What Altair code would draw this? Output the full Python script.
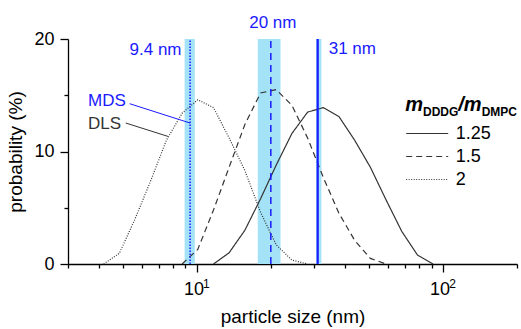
import altair as alt
import pandas as pd

# ---- data ----
sizes_r2 = [4.187, 4.849, 5.615, 6.503, 7.531, 8.721, 10.1, 11.7, 13.54, 15.69, 18.17, 21.04, 24.36, 28.21]
prob_r2 = [0, 0.95, 4.0, 7.4, 11.0, 13.4, 14.6, 13.9, 11.2, 8.3, 4.6, 1.7, 0.35, 0]

sizes_r15 = [8.721, 10.1, 11.7, 13.54, 15.69, 18.17, 21.04, 24.36, 28.21, 32.67, 37.84, 43.82, 50.75, 58.77]
prob_r15 = [0, 1.3, 4.8, 8.6, 12.4, 15.2, 15.5, 14.1, 11.2, 7.7, 4.5, 2.1, 0.5, 0]

sizes_r125 = [11.7, 13.54, 15.69, 18.17, 21.04, 24.36, 28.21, 32.67, 37.84, 43.82, 50.75, 58.77, 68.06, 78.82, 91.28]
prob_r125 = [0, 1.0, 3.0, 5.8, 8.8, 11.6, 13.5, 13.9, 13.1, 11.0, 8.6, 5.7, 2.9, 0.8, 0]

ratio_labels = ["1.25", "1.5", "2"]

mds_sizes = [9.4, 20, 31]
mds_labels = ["9.4 nm", "20 nm", "31 nm"]
band_lo = [8.93, 17.7, 30.5]
band_hi = [9.82, 21.9, 32.1]

x_tick_values = [3, 4, 5, 6, 7, 8, 9, 10, 20, 30, 40, 50, 60, 70, 80, 90, 100, 200]
x_decades = [10, 100]
x_exponents = ["1", "2"]
y_tick_values = [0, 5, 10, 15, 20]

# ---- tables ----
rows = []
for lab, xs, ys in [("1.25", sizes_r125, prob_r125), ("1.5", sizes_r15, prob_r15), ("2", sizes_r2, prob_r2)]:
    for i, (s, p) in enumerate(zip(xs, ys)):
        rows.append({"size": s, "prob": p, "ratio": lab, "idx": i})
curves = pd.DataFrame(rows)

markers = pd.DataFrame({"center": mds_sizes, "label": mds_labels, "lo": band_lo, "hi": band_hi})
decades = pd.DataFrame({"v": x_decades, "e": x_exponents})

FONT = "Liberation Sans"
BLUE = "#1a1aff"
BAND = "#a3e2f7"
INK = "#333333"

xscale = alt.Scale(type="log", domain=[3, 200], nice=False)
yscale = alt.Scale(domain=[0, 20], nice=False, zero=True)

xaxis = alt.Axis(
    values=x_tick_values,
    labelExpr="(datum.value == 10 || datum.value == 100) ? '10' : ''",
    tickSize={"condition": {"test": "datum.value == 10 || datum.value == 100", "value": 8}, "value": 4},
    grid=False, labelOverlap=False, labelFlush=False, labelOffset=-3.3,
    labelFontSize=18, titleFontSize=19, labelFont=FONT, titleFont=FONT,
    labelColor="black", titleColor="black", titleFontWeight="normal",
    domainColor="black", tickColor="black", domainWidth=1.3, tickWidth=1.3,
    labelPadding=8, titlePadding=9, title="particle size (nm)",
)
yaxis = alt.Axis(
    values=y_tick_values,
    labelExpr="datum.value % 10 == 0 ? datum.label : ''",
    tickSize={"condition": {"test": "datum.value % 10 == 0", "value": 8}, "value": 4},
    grid=False, labelOverlap=False,
    labelFontSize=18, titleFontSize=19, labelFont=FONT, titleFont=FONT,
    labelColor="black", titleColor="black", titleFontWeight="normal",
    domainColor="black", tickColor="black", domainWidth=1.3, tickWidth=1.3,
    labelPadding=6, titlePadding=8, title="probability (%)",
)

bands = alt.Chart(markers).mark_rect(color=BAND).encode(
    x=alt.X("lo:Q", scale=xscale, axis=xaxis),
    x2="hi:Q",
    y=alt.Y(datum=0, scale=yscale, axis=yaxis),
    y2=alt.datum(20),
)

lines = alt.Chart(curves).mark_line(color=INK, strokeWidth=1.2).encode(
    x=alt.X("size:Q", scale=xscale, axis=xaxis),
    y=alt.Y("prob:Q", scale=yscale, axis=yaxis),
    strokeDash=alt.StrokeDash(
        "ratio:N",
        scale=alt.Scale(domain=ratio_labels, range=[[1, 0], [6, 4], [1, 1.5]]),
        legend=alt.Legend(
            title=None, orient="none", legendX=347.7, legendY=83,
            symbolType="M-2,0H2", symbolSize=441, symbolStrokeWidth=1.2,
            symbolStrokeColor=INK, labelFontSize=18, labelFont=FONT,
            labelColor="black", labelOffset=17, rowPadding=2, padding=0,
        ),
    ),
    order="idx:Q",
)

# superscript exponents of the decade labels
sup = alt.Chart(decades).mark_text(
    color="black", font=FONT, fontSize=12, align="left", baseline="alphabetic", dx=6.3
).encode(x=alt.X("v:Q", scale=xscale), y=alt.value(249), text="e:N")

def rule_layer(i, dash, width):
    return alt.Chart(markers.iloc[[i]]).mark_rule(color=BLUE, strokeWidth=width, strokeDash=dash).encode(
        x=alt.X("center:Q", scale=xscale),
        y=alt.Y(datum=0, scale=yscale),
        y2=alt.datum(20),
    )

r1 = rule_layer(0, [1.5, 1.5], 1.5)
r2 = rule_layer(1, [7, 5], 1.5)
r3 = rule_layer(2, [1, 0], 2.2)

def label_layer(i, dx, ypix, align):
    return alt.Chart(markers.iloc[[i]]).mark_text(
        color=BLUE, font=FONT, fontSize=17, align=align, baseline="alphabetic", dx=dx
    ).encode(x=alt.X("center:Q", scale=xscale), y=alt.value(ypix), text="label:N")

l1 = label_layer(0, -8.6, 15.7, "right")
l2 = label_layer(1, 2, -11, "center")
l3 = label_layer(2, 11, 15.2, "left")

one = pd.DataFrame({"k": [0]})

mds_ptr = alt.Chart(one).mark_rule(color=BLUE, strokeWidth=1).encode(
    x=alt.datum(5.34), x2=alt.datum(9.4), y=alt.datum(14.25), y2=alt.datum(12.53))
dls_ptr = alt.Chart(one).mark_rule(color=INK, strokeWidth=1).encode(
    x=alt.datum(5.15), x2=alt.datum(7.65), y=alt.datum(12.53), y2=alt.datum(11.34))
mds_txt = alt.Chart(one).mark_text(color=BLUE, font=FONT, fontSize=17, align="left", baseline="alphabetic").encode(
    x=alt.datum(3.62), y=alt.datum(14.07), text=alt.value("MDS"))
dls_txt = alt.Chart(one).mark_text(color=INK, font=FONT, fontSize=17, align="left", baseline="alphabetic").encode(
    x=alt.datum(3.62), y=alt.datum(12.0), text=alt.value("DLS"))

def title_piece(txt, xpix, ypix, size, style, weight="bold"):
    return alt.Chart(one).mark_text(
        color="black", font=FONT, fontSize=size, fontStyle=style, fontWeight=weight,
        align="left", baseline="alphabetic"
    ).encode(x=alt.value(xpix), y=alt.value(ypix), text=alt.value(txt))

t1 = title_piece("m", 337.2, 72.4, 20, "italic")
t2 = title_piece("DDDG", 355.0, 77.4, 12, "normal")
t3 = title_piece("/m", 390.3, 72.4, 20, "italic")
t4 = title_piece("DMPC", 413.7, 77.4, 12, "normal")

chart = alt.layer(
    bands, lines, sup, r1, r2, r3, l1, l2, l3, mds_ptr, dls_ptr, mds_txt, dls_txt, t1, t2, t3, t4
).properties(
    width=449, height=225,
    padding={"left": 68, "top": 39, "right": 4, "bottom": 65},
    autosize=alt.AutoSizeParams(type="none"),
    background="white",
).configure_view(stroke=None)

chart.save("out.html", embed_options={"renderer": "svg", "actions": False})
